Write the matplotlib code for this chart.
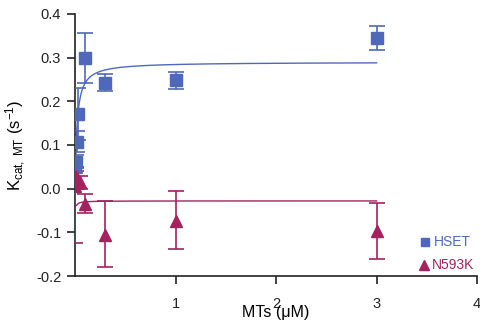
import numpy as np
import matplotlib
matplotlib.use("Agg")
from matplotlib import pyplot as plt

plt.rcParams['font.family'] = ['Liberation Sans', 'DejaVu Sans']
plt.rcParams['mathtext.fontset'] = 'custom'
plt.rcParams['mathtext.rm'] = 'Liberation Sans'
plt.rcParams['mathtext.it'] = 'Liberation Sans:italic'

blue = '#5068BC'
mag = '#A3225F'

# HSET
hset_x = [0.004, 0.008, 0.015, 0.025, 0.1, 0.3, 1.0, 3.0]
hset_y = [0.050, 0.062, 0.108, 0.171, 0.299, 0.243, 0.248, 0.345]
hset_err = [0.015, 0.015, 0.025, 0.06, 0.058, 0.02, 0.019, 0.027]

# N593K
n_x = [0.003, 0.006, 0.012, 0.05, 0.1, 0.3, 1.0, 3.0]
n_y = [0.005, 0.030, 0.020, 0.015, -0.035, -0.106, -0.074, -0.098]
n_err_lo = [0.13, 0.02, 0.02, 0.015, 0.021, 0.073, 0.065, 0.063]
n_err_hi = [0.045, 0.02, 0.02, 0.015, 0.023, 0.078, 0.069, 0.066]

# fit parameters
hset_vmax, hset_k = 0.29, 0.02
n_plateau, n_amp, n_k = -0.028, 0.03, 0.008

fig = plt.figure(figsize=(4.81, 3.23), dpi=100)
ax = fig.add_axes([0.156, 0.1455, 0.836, 0.8112])

xf = np.linspace(0.0, 3.0, 2000)
ax.plot(xf, hset_vmax * xf / (hset_k + xf), color=blue, lw=1.0, zorder=2)
xf2 = np.linspace(0.015, 3.0, 2000)
ax.plot(xf2, n_plateau - n_amp * n_k / (n_k + xf2), color=mag, lw=1.0, zorder=2)

ax.errorbar(hset_x, hset_y, yerr=hset_err, fmt='s', color=blue, ms=8.5,
            ecolor=blue, elinewidth=1.2, capsize=5.5, capthick=1.2, zorder=3)
ax.errorbar(n_x, n_y, yerr=[n_err_lo, n_err_hi], fmt='^', color=mag, ms=9,
            ecolor=mag, elinewidth=1.2, capsize=5.5, capthick=1.2, zorder=3)

ax.set_xlim(0, 4)
ax.set_ylim(-0.2, 0.4)
ax.set_xticks([1, 2, 3, 4])
ax.set_yticks([-0.2, -0.1, 0.0, 0.1, 0.2, 0.3, 0.4])
ax.set_yticklabels(['-0.2', '-0.1', '0.0', '0.1', '0.2', '0.3', '0.4'])
ax.tick_params(labelsize=10.5, colors='#222222', length=6, width=1.2)
ax.tick_params(axis='x', pad=9)
ax.tick_params(axis='y', pad=4)
for s in ['top', 'right']:
    ax.spines[s].set_visible(False)
for s in ['left', 'bottom']:
    ax.spines[s].set_linewidth(1.2)
    ax.spines[s].set_color('#222222')

ax.set_xlabel('MTs (\u03bcM)', fontsize=11.5, labelpad=-4)
ax.set_ylabel(r'K$_{\mathrm{cat,\ MT}}$ (s$^{-1}$)', fontsize=12, labelpad=6)

# legend
ax.plot([3.48], [-0.122], 's', color=blue, ms=6, clip_on=False)
ax.text(3.57, -0.122, 'HSET', color=blue, fontsize=10, va='center')
ax.plot([3.47], [-0.175], '^', color=mag, ms=7, clip_on=False)
ax.text(3.55, -0.175, 'N593K', color=mag, fontsize=10, va='center')

fig.savefig('out.png', dpi=100)
